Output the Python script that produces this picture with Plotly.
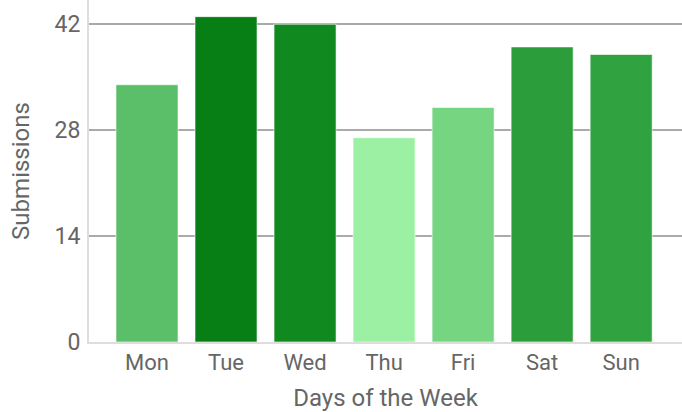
import plotly.graph_objects as go

days = ["Mon", "Tue", "Wed", "Thu", "Fri", "Sat", "Sun"]
submissions = [34, 43, 42, 27, 31, 39, 38]
colors = ["#5abf68", "#077f14", "#10891e", "#9cf0a4", "#75d581", "#2b9e3b", "#30a340"]
y_ticks = [0, 14, 28, 42]

fig = go.Figure(go.Bar(
    x=days, y=submissions,
    marker=dict(color=colors, line=dict(color="rgba(255,255,255,0.6)", width=1)),
))

font_family = "Roboto, sans-serif"
fig.update_layout(
    width=682, height=412,
    margin=dict(l=89, r=0, t=0, b=70, autoexpand=False),
    plot_bgcolor="white", paper_bgcolor="white",
    bargap=0.215,
    showlegend=False,
    font=dict(family=font_family, color="#666666", size=22),
    xaxis=dict(
        title=dict(text="Days of the Week", font=dict(size=24, color="#666666"), standoff=16),
        range=[-0.734, 6.77],
        showline=True, linecolor="#dddddd", linewidth=2,
        tickfont=dict(size=22, color="#666666"),
        ticks="", showgrid=False,
    ),
    yaxis=dict(
        title=dict(text="Submissions", font=dict(size=24, color="#666666"), standoff=18),
        range=[0, 45.2],
        tickvals=y_ticks,
        showline=True, linecolor="#dddddd", linewidth=2,
        gridcolor="#aaaaaa", gridwidth=1.5,
        tickfont=dict(size=23, color="#666666"),
        ticks="", zeroline=False,
        ticklabelstandoff=2,
    ),
)

fig.write_html(
    "out.html",
    config={"displayModeBar": False},
    post_script="document.body.style.margin='0';document.body.style.overflow='hidden';",
)
